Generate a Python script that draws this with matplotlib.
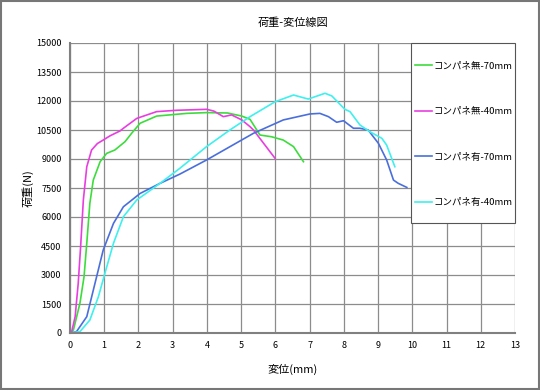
import matplotlib
matplotlib.use('Agg')
import matplotlib.pyplot as plt

plt.rcParams['font.family'] = ['Noto Sans CJK JP', 'DejaVu Sans']

# データ
x_g70 = [0, 0.10, 0.29, 0.41, 0.49, 0.58, 0.68, 0.88, 1.07, 1.31, 1.61, 1.80, 2.05, 2.53, 3.41, 3.99, 4.6, 5.02, 5.26, 5.55, 5.89, 6.23, 6.53, 6.82]
y_g70 = [0, 155, 1535, 2910, 4640, 6710, 7910, 8860, 9290, 9465, 9900, 10330, 10850, 11220, 11360, 11400, 11380, 11220, 11050, 10240, 10150, 9980, 9640, 8860]

x_m40 = [0, 0.05, 0.15, 0.24, 0.31, 0.39, 0.49, 0.63, 0.80, 0.97, 1.17, 1.46, 1.56, 1.95, 2.53, 3.12, 3.99, 4.2, 4.48, 4.72, 5.02, 5.26, 5.36, 5.99]
y_m40 = [0, 70, 845, 2570, 4460, 6880, 8600, 9465, 9800, 9980, 10200, 10450, 10590, 11100, 11450, 11520, 11570, 11480, 11190, 11280, 11020, 10670, 10500, 9035]

x_b70 = [0, 0.19, 0.49, 0.73, 0.97, 1.27, 1.56, 2.05, 2.63, 3.21, 3.99, 5.36, 6.23, 7.01, 7.30, 7.55, 7.79, 7.99, 8.28, 8.47, 8.71, 9.01, 9.25, 9.45, 9.59, 9.84]
y_b70 = [0, 70, 845, 2570, 4290, 5670, 6530, 7220, 7740, 8220, 8950, 10330, 11020, 11330, 11360, 11190, 10900, 10980, 10590, 10590, 10500, 9810, 8950, 7910, 7740, 7530]

x_c40 = [0, 0.29, 0.58, 0.83, 1.02, 1.27, 1.56, 1.95, 2.63, 3.21, 3.99, 4.67, 5.26, 5.99, 6.53, 6.96, 7.45, 7.65, 8.03, 8.18, 8.47, 8.76, 9.11, 9.25, 9.49]
y_c40 = [0, 70, 670, 1880, 3090, 4640, 6015, 6880, 7740, 8520, 9640, 10500, 11190, 11960, 12310, 12100, 12400, 12260, 11570, 11450, 10760, 10410, 10070, 9720, 8600]

labels = ['コンパネ無-70mm', 'コンパネ無-40mm', 'コンパネ有-70mm', 'コンパネ有-40mm']
colors = ['#3ddc3d', '#e83ee0', '#4a6fdc', '#3ef0ee']

fig = plt.figure(figsize=(5.4, 3.9), dpi=100)
ax = fig.add_axes([70 / 540, 1 - 333 / 390, 445 / 540, 290 / 390])

for xs, ys, lab, c in zip([x_g70, x_m40, x_b70, x_c40], [y_g70, y_m40, y_b70, y_c40], labels, colors):
    ax.plot(xs, ys, color=c, lw=1.2, label=lab)

ax.set_xlim(0, 13)
ax.set_ylim(0, 15000)
ax.set_xticks(range(0, 14))
ax.set_yticks(range(0, 15001, 1500))
ax.grid(True, color='#8c8c8c', lw=0.9)
ax.tick_params(labelsize=6.5, length=0, pad=6)
for s in ['top', 'right']:
    ax.spines[s].set_visible(False)
for s in ['left', 'bottom']:
    ax.spines[s].set_color('#808080')
    ax.spines[s].set_linewidth(1.5)

ax.set_title('荷重-変位線図', fontsize=8, pad=12)
ax.set_xlabel('変位(mm)', fontsize=8, labelpad=10)
ax.set_ylabel('荷重(N)', fontsize=8, labelpad=2)

# 凡例の枠 (白地で目盛線を隠す)
box = plt.Rectangle((341 / 445, 110 / 290), 104 / 445, 180 / 290, transform=ax.transAxes,
                    facecolor='white', edgecolor='#555555', lw=0.8, zorder=3, clip_on=False)
ax.add_patch(box)

leg = ax.legend(loc='upper left', bbox_to_anchor=(345 / 445, 272 / 290), fontsize=6.8,
                frameon=False, labelspacing=3.9, handlelength=1.8, handletextpad=0.2,
                borderpad=0, borderaxespad=0)
leg.set_zorder(5)

# 外枠
fig.patches.append(plt.Rectangle((0.002, 0.003), 0.996, 0.994, transform=fig.transFigure,
                                 fill=False, edgecolor='#777777', lw=1.5))

plt.savefig('out.png', dpi=100)
plt.close()
